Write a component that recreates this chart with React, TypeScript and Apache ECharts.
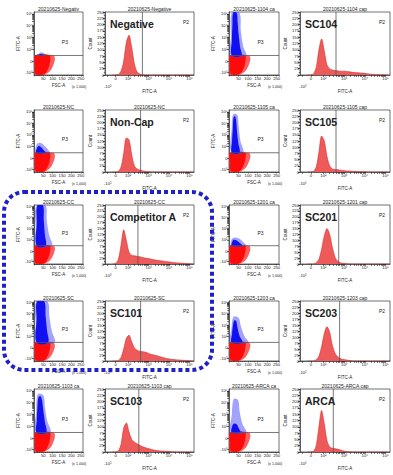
import React, { useEffect, useRef } from 'react';
import * as echarts from 'echarts';

// ---------- DATA ----------
const sampleNames = ['Negative', 'SC104', 'Non-Cap', 'SC105', 'Competitor A', 'SC201', 'SC101', 'SC203', 'SC103', 'ARCA'];
const scatterTitles = ['20210625-Negativ', '20210625-1104 ca', '20210625-NC', '20210625-1105 ca', '20210625-CC', '20210625-1201 ca', '20210625-SC', '20210625-1203 ca', '20210625-1103 ca', '20210625-ARCA ca'];
const histTitles = ['20210625-Negative', '20210625-1104 cap', '20210625-NC', '20210625-1105 cap', '20210625-CC', '20210625-1201 cap', '20210625-SC', '20210625-1203 cap', '20210625-1103 cap', '20210625-ARCA cap'];

// histogram: FITC-A position (display units 0-100) and count (% of axis max)
const histX = [8, 12, 15, 18, 21, 24, 27, 30, 33, 36, 40, 45, 50, 55, 60, 70, 80, 90, 100];
const histNegative = [0, 0, 1, 6, 22, 52, 63, 44, 18, 5, 1, 0, 0, 0, 0, 0, 0, 0, 0];
const histSC104 = [0, 0, 2, 12, 40, 57, 38, 16, 10, 8, 7, 6, 6, 5, 4, 3, 1, 0.5, 0];
const histNonCap = [0, 0, 1, 8, 30, 55, 52, 28, 10, 5, 3, 1, 0.5, 0, 0, 0, 0, 0, 0];
const histSC105 = [0, 0, 1, 8, 32, 58, 50, 25, 10, 5, 4, 3, 2, 1.5, 1, 0.5, 0, 0, 0];
const histCompetitorA = [0, 1, 8, 32, 58, 40, 20, 15, 14, 13, 12, 10, 9, 7, 6, 4, 2, 1, 0];
const histSC201 = [0, 0, 0, 2, 8, 25, 48, 60, 50, 28, 8, 2, 1, 0, 0, 0, 0, 0, 0];
const histSC101 = [0, 0, 1, 6, 20, 38, 43, 32, 22, 18, 16, 15, 12, 10, 8, 4, 2, 1, 0];
const histSC203 = [0, 0, 0, 2, 8, 24, 46, 57, 48, 26, 10, 4, 2, 1, 0, 0, 0, 0, 0];
const histSC103 = [0, 0, 2, 12, 38, 46, 32, 20, 16, 13, 10, 7, 5, 3, 2, 1, 0, 0, 0];
const histARCA = [0, 0, 1, 10, 40, 66, 45, 18, 8, 6, 5, 3, 1, 0.5, 0, 0, 0, 0, 0];
const histSeries = [histNegative, histSC104, histNonCap, histSC105, histCompetitorA, histSC201, histSC101, histSC203, histSC103, histARCA];
const histGates = [42, 40, 40, 40, 37, 43, 40, 44, 38, 37];

// scatter gate (FITC-A display units) and cloud outlines [FSC-A (x1000), FITC-A display]
const scatterGate = 31;
const redCore = [[8, 2], [40, 0], [62, 3], [78, 12], [86, 22], [84, 31], [8, 31], [6, 15]];
const redHalo = [[5, 0], [50, 0], [85, 6], [105, 17], [112, 26], [104, 31], [5, 31], [3, 12]];
const blueCoreNegative = [[28, 31], [48, 31], [42, 33], [32, 33]];
const blueHaloNegative = [[22, 31], [62, 31], [55, 34], [40, 36], [27, 34]];
const blueCoreSC104 = [[15, 31], [65, 31], [58, 45], [50, 65], [45, 85], [40, 99], [22, 99], [18, 80], [15, 55]];
const blueHaloSC104 = [[10, 31], [90, 31], [75, 45], [62, 70], [55, 99], [14, 99], [10, 60]];
const blueCoreNonCap = [[12, 31], [60, 31], [50, 36], [38, 40], [25, 42], [15, 38]];
const blueHaloNonCap = [[10, 31], [85, 31], [70, 38], [50, 44], [30, 47], [14, 44]];
const blueCoreSC105 = [[15, 31], [55, 31], [48, 48], [42, 65], [38, 82], [32, 90], [24, 88], [20, 70], [16, 50]];
const blueHaloSC105 = [[12, 31], [75, 31], [60, 50], [50, 75], [44, 92], [22, 93], [14, 70]];
const blueCoreCompA = [[14, 31], [62, 31], [58, 50], [52, 75], [48, 99], [18, 99], [15, 70]];
const blueHaloCompA = [[10, 31], [95, 31], [80, 50], [68, 75], [62, 99], [12, 99], [9, 60]];
const blueCoreSC201 = [[15, 31], [70, 31], [55, 36], [40, 40], [25, 41], [16, 37]];
const blueHaloSC201 = [[12, 31], [90, 31], [75, 37], [55, 43], [30, 45], [14, 42]];
const blueCoreSC101 = [[14, 31], [75, 31], [70, 50], [62, 75], [55, 99], [16, 99], [14, 70]];
const blueHaloSC101 = [[10, 31], [110, 31], [95, 50], [82, 75], [72, 99], [12, 99], [9, 60]];
const blueCoreSC203 = [[14, 31], [70, 31], [55, 42], [45, 55], [38, 66], [28, 68], [20, 58], [16, 45]];
const blueHaloSC203 = [[10, 31], [100, 31], [80, 42], [62, 58], [50, 72], [24, 74], [13, 55]];
const blueCoreSC103 = [[14, 31], [65, 31], [58, 48], [50, 65], [44, 80], [36, 88], [24, 87], [18, 70], [15, 50]];
const blueHaloSC103 = [[10, 31], [88, 31], [70, 50], [58, 72], [50, 90], [20, 92], [12, 65]];
const blueCoreARCA = [[14, 31], [60, 31], [50, 38], [40, 44], [25, 45], [16, 40]];
const blueHaloARCA = [[10, 31], [90, 31], [70, 45], [55, 65], [48, 82], [25, 84], [15, 60]];
const blueCores = [blueCoreNegative, blueCoreSC104, blueCoreNonCap, blueCoreSC105, blueCoreCompA, blueCoreSC201, blueCoreSC101, blueCoreSC203, blueCoreSC103, blueCoreARCA];
const blueHalos = [blueHaloNegative, blueHaloSC104, blueHaloNonCap, blueHaloSC105, blueHaloCompA, blueHaloSC201, blueHaloSC101, blueHaloSC203, blueHaloSC103, blueHaloARCA];

// tick labels
const scatterXTicks = ['', '50', '100', '150', '200', '250'];
const scatterYTickValues = [4, 22, 41, 60, 79, 97];
const scatterYTickLabels = ['-10³', '0', '10²', '10³', '10⁴', '10⁵'];
const histXTickValues = [3, 12, 26, 49, 72, 95];
const histXTickLabels = ['-10³', '0', '10²', '10³', '10⁴', '10⁵'];
const countTicks = ['0', '25', '50', '75', '100', '125', '150', '175', '200', '225', '250'];

// ---------- LAYOUT ----------
const COLS = [{ l: 34, r: 83 }, { l: 105, r: 194 }, { l: 229, r: 279 }, { l: 300, r: 390 }];
const ROWS = [{ t: 12, b: 75 }, { t: 110, b: 172 }, { t: 205, b: 264 }, { t: 301, b: 361 }, { t: 389, b: 452 }];
const FONT = '"Liberation Sans", Arial, sans-serif';

function minorTicks(decades: number[], span: number) {
  const out: number[] = [];
  decades.forEach((d) => {
    for (let k = 2; k <= 9; k++) {
      const v = d + span * Math.log10(k);
      if (v < 100) out.push(v);
    }
  });
  return out;
}

function polySeries(poly: number[][], color: string, idx: number) {
  return {
    type: 'custom',
    xAxisIndex: idx,
    yAxisIndex: idx,
    silent: true,
    clip: true,
    data: [[0, 0]],
    renderItem: (_p: any, api: any) => ({
      type: 'polygon',
      shape: { points: poly.map((pt) => api.coord(pt)), smooth: 0.35 },
      style: { fill: color },
    }),
  };
}

function buildOption() {
  const grid: any[] = [];
  const xAxis: any[] = [];
  const yAxis: any[] = [];
  const series: any[] = [];
  const graphic: any[] = [];

  const axisLine = { show: true, lineStyle: { color: '#333', width: 0.7 } };
  const scatterYTickAll = scatterYTickValues.concat(minorTicks([41, 60, 79], 19));
  const histXTickAll = histXTickValues.concat(minorTicks([26, 49, 72], 23));

  const text = (t: string, x: number, y: number, font: string, align = 'left', vAlign = 'middle', extra: any = {}) => ({
    type: 'text', x, y, silent: true, ...extra,
    style: { text: t, font, fill: '#222', align, verticalAlign: vAlign },
  });

  for (let i = 0; i < sampleNames.length; i++) {
    const row = ROWS[Math.floor(i / 2)];
    const sc = COLS[(i % 2) * 2];
    const hc = COLS[(i % 2) * 2 + 1];
    const h = row.b - row.t;

    // ---- scatter panel ----
    const gs = grid.length;
    grid.push({ left: sc.l, top: row.t, width: sc.r - sc.l, height: h, show: true, borderColor: '#333', borderWidth: 0.7, backgroundColor: '#fff' });
    xAxis.push({
      gridIndex: gs, type: 'value', min: 0, max: 262, interval: 50,
      axisLine, splitLine: { show: false },
      axisTick: { show: true, length: 1.5, lineStyle: { color: '#333', width: 0.6 } },
      minorTick: { show: true, splitNumber: 5, length: 1, lineStyle: { color: '#333', width: 0.5 } },
      axisLabel: { fontSize: 4.2, margin: 1.5, color: '#222', fontFamily: FONT, formatter: (v: number) => scatterXTicks[Math.round(v / 50)] ?? '' },
      name: 'FSC-A', nameLocation: 'middle', nameGap: 8, nameTextStyle: { fontSize: 4.5, color: '#222', fontFamily: FONT },
    });
    yAxis.push({
      gridIndex: gs, type: 'value', min: 0, max: 100,
      axisLine, splitLine: { show: false },
      axisTick: { show: true, length: 1.8, customValues: scatterYTickAll, lineStyle: { color: '#222', width: 0.7 } },
      axisLabel: {
        fontSize: 4.2, margin: 1.5, color: '#222', fontFamily: FONT, customValues: scatterYTickValues,
        formatter: (v: number) => scatterYTickLabels[scatterYTickValues.indexOf(v)] ?? '',
      },
      name: 'FITC-A', nameLocation: 'middle', nameGap: 10, nameTextStyle: { fontSize: 4.5, color: '#222', fontFamily: FONT },
    });
    series.push(polySeries(redHalo, 'rgba(255,40,40,0.75)', gs));
    series.push(polySeries(redCore, '#ff0a0a', gs));
    series.push(polySeries(blueHalos[i], 'rgba(70,70,255,0.5)', gs));
    series.push(polySeries(blueCores[i], '#1010f0', gs));
    series.push({
      type: 'line', xAxisIndex: gs, yAxisIndex: gs, silent: true, showSymbol: false,
      data: [[0, scatterGate], [262, scatterGate]], lineStyle: { color: '#555', width: 0.8 },
    });
    graphic.push(text(scatterTitles[i], (sc.l + sc.r) / 2, row.t - 1, `5px ${FONT}`, 'center', 'bottom'));
    graphic.push(text('P3', sc.l + 0.63 * (sc.r - sc.l), row.t + 0.47 * h, `5px ${FONT}`, 'center', 'middle'));
    graphic.push(text('(x 1,000)', sc.r - 4, row.b + 12, `3.6px ${FONT}`, 'center', 'middle'));

    // ---- histogram panel ----
    const gh = grid.length;
    grid.push({ left: hc.l, top: row.t, width: hc.r - hc.l, height: h, show: true, borderColor: '#333', borderWidth: 0.7, backgroundColor: '#fff' });
    xAxis.push({
      gridIndex: gh, type: 'value', min: 0, max: 100,
      axisLine, splitLine: { show: false },
      axisTick: { show: true, length: 1.8, customValues: histXTickAll, lineStyle: { color: '#222', width: 0.7 } },
      axisLabel: {
        fontSize: 4.2, margin: 1.5, color: '#222', fontFamily: FONT, customValues: histXTickValues,
        formatter: (v: number) => {
          const k = histXTickValues.indexOf(v);
          if (k === 0) return '{low|' + histXTickLabels[0] + '}';
          return histXTickLabels[k] ?? '';
        },
        rich: { low: { fontSize: 4.2, padding: [8, 0, 0, 0], fontFamily: FONT, color: '#222' } },
      },
      name: 'FITC-A', nameLocation: 'middle', nameGap: 9, nameTextStyle: { fontSize: 4.5, color: '#222', fontFamily: FONT },
    });
    yAxis.push({
      gridIndex: gh, type: 'value', min: 0, max: 100, interval: 10,
      axisLine, splitLine: { show: false },
      axisTick: { show: true, length: 2, lineStyle: { color: '#222', width: 0.8 } },
      minorTick: { show: true, splitNumber: 2, length: 1.2, lineStyle: { color: '#222', width: 0.6 } },
      axisLabel: { show: true, fontSize: 4.2, margin: 1, color: '#222', fontFamily: FONT, formatter: (v: number) => countTicks[Math.round(v / 10)] ?? '' },
      name: 'Count', nameLocation: 'middle', nameGap: 9, nameTextStyle: { fontSize: 4.5, color: '#222', fontFamily: FONT },
    });
    series.push({
      type: 'line', xAxisIndex: gh, yAxisIndex: gh, silent: true, showSymbol: false, smooth: 0.3,
      data: histX.map((x, k) => [x, histSeries[i][k]]),
      lineStyle: { color: '#d83030', width: 0.6 },
      areaStyle: { color: '#ee5a5a', opacity: 1 },
    });
    series.push({
      type: 'line', xAxisIndex: gh, yAxisIndex: gh, silent: true, showSymbol: false,
      data: [[histGates[i], 0], [histGates[i], 100]], lineStyle: { color: '#555', width: 0.8 },
    });
    graphic.push(text(histTitles[i], (hc.l + hc.r) / 2, row.t - 1, `5px ${FONT}`, 'center', 'bottom'));
    graphic.push(text('P2', hc.r - 8, row.t + 10, `5px ${FONT}`, 'center', 'middle'));
    graphic.push(text(sampleNames[i], hc.l + 5, row.t + 12, `bold 10.5px "Liberation Sans Narrow", ${FONT}`, 'left', 'middle', { z: 100 }));
  }

  graphic.push({
    type: 'rect', silent: true, z: 200,
    shape: { x: 4, y: 192, width: 208, height: 178, r: 20 },
    style: { fill: 'none', stroke: '#2020c8', lineWidth: 4, lineDash: [4, 3] },
  });

  return {
    animation: false,
    backgroundColor: '#fff',
    textStyle: { fontFamily: FONT },
    grid, xAxis, yAxis, series, graphic,
  };
}

export default function App() {
  const ref = useRef<HTMLDivElement>(null);
  useEffect(() => {
    if (!ref.current) return;
    const chart = echarts.init(ref.current, undefined, { renderer: 'svg' });
    chart.setOption(buildOption() as any);
    return () => chart.dispose();
  }, []);
  return <div ref={ref} style={{ position: 'absolute', left: 0, top: 0, width: 393, height: 475 }} />;
}
